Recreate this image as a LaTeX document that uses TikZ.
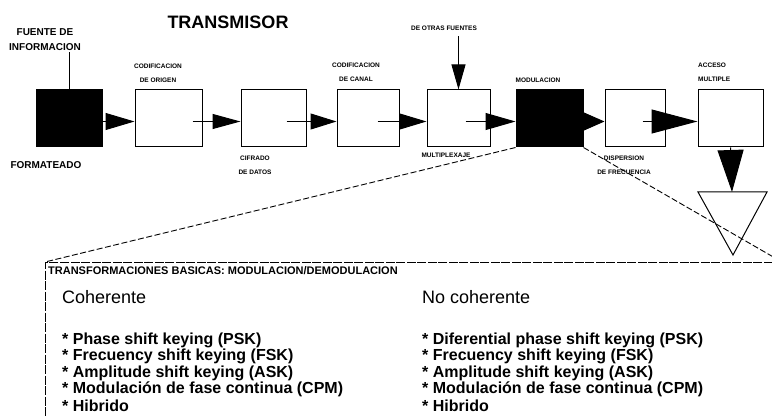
\documentclass[tikz,border=0pt]{standalone}
\usepackage{fontspec}
\setmainfont{Liberation Sans}
\setsansfont{Liberation Sans}
\usetikzlibrary{arrows.meta}
\begin{document}
\begin{tikzpicture}[x=1pt,y=-1pt,font=\sffamily,
  blk/.style={draw,line width=1pt,minimum height=57pt,inner sep=0pt},
  tag/.style={font=\sffamily\bfseries\fontsize{6.5}{14}\selectfont,align=center,inner sep=0pt},
  srclbl/.style={font=\sffamily\bfseries\fontsize{10}{15}\selectfont,align=center,inner sep=1pt},
  head/.style={anchor=west,inner sep=0pt,font=\sffamily\fontsize{18}{20}\selectfont},
  item/.style={anchor=west,inner sep=0pt,font=\sffamily\bfseries\fontsize{16}{18}\selectfont},
  flow/.style args={#1/#2}{line width=1pt,-{Triangle[length=#1pt,width=#2pt]}},
  zoomln/.style={line width=0.9pt,dash pattern=on 6pt off 2.5pt}]
\useasboundingbox (0,0) rectangle (772,417);
\clip (0,0) rectangle (772,417);
% chain of the transmitter
\foreach \n/\x/\w/\f in {b1/69/66/black,b2/168.5/67/white,b3/273.5/65/white,b4/368/62/white,b5/458.5/63/white,b6/549.5/67/black,b7/635/60/white,b8/730.5/65/white}
  \node[blk,minimum width=\w pt,fill=\f] (\n) at (\x,118.5) {};
\node[font=\sffamily\bfseries\fontsize{18}{20}\selectfont] (title) at (228,22) {TRANSMISOR};
\node[srclbl] (fuente) at (45,40) {FUENTE DE\\INFORMACION};
\node[srclbl] (formato) at (46,165) {FORMATEADO};
\node[tag] (codo) at (158,73) {CODIFICACION\\DE ORIGEN};
\node[tag] (cifr) at (255,165) {CIFRADO\\DE DATOS};
\node[tag] (codc) at (356,72) {CODIFICACION\\DE CANAL};
\node[tag] (otras) at (444,28) {DE OTRAS FUENTES};
\node[tag] (mux) at (446,155) {MULTIPLEXAJE};
\node[tag] (modl) at (538,80) {MODULACION};
\node[tag] (disp) at (624,165) {DISPERSION\\DE FRECUENCIA};
\node[tag,align=left,anchor=west] (acc) at (698,72) {ACCESO\\MULTIPLE};
\draw[line width=1pt] (b1.north) -- (b1.north |- fuente.south);
\draw[flow=25/14] ([yshift=-6pt]b5.north |- otras.south) -- (b5.north);
\foreach \a/\b/\s/\l/\w in {b1/b2/0/29/17,b2/b3/10/28/15,b3/b4/20/26/16,b4/b5/22/27/16,b5/b6/25/30/17,b6/b7/0/23/20,b7/b8/23/46/24}
  \draw[flow=\l/\w] ([xshift=-\s pt,yshift=-3pt]\a.east) -- ([yshift=-3pt]\b.west);
% antenna
\coordinate (ant) at (732,192);
\draw[line width=1pt] (698,192) -- (767,192) -- (733,255) -- cycle;
\draw[flow=42/26] (b8.south) -- (ant);
% detail frame
\node[draw,line width=1pt,dash pattern=on 9pt off 1.5pt,minimum width=736pt,minimum height=200pt,anchor=north west,inner sep=0pt] (frame) at (45,262) {};
\draw[zoomln] (b6.south west) -- (frame.north west);
\draw[zoomln] (b6.south east) -- (frame.north east);
\node[anchor=west,inner sep=0pt,font=\sffamily\bfseries\fontsize{11}{13}\selectfont] (trf) at (48,271) {TRANSFORMACIONES BASICAS: MODULACION/DEMODULACION};
\node[head] (coh) at (62,297) {Coherente};
\node[head] (ncoh) at (422,297) {No coherente};
\foreach \i/\t in {0/Phase shift keying (PSK),1/Frecuency shift keying (FSK),2/Amplitude shift keying (ASK),3/Modulación de fase continua (CPM),4/Hibrido}
  \node[item] (ci\i) at (62,340+16.5*\i) {* \t};
\foreach \i/\t in {0/Diferential phase shift keying (PSK),1/Frecuency shift keying (FSK),2/Amplitude shift keying (ASK),3/Modulación de fase continua (CPM),4/Hibrido}
  \node[item] (ni\i) at (422,340+16.5*\i) {* \t};
\end{tikzpicture}
\end{document}
